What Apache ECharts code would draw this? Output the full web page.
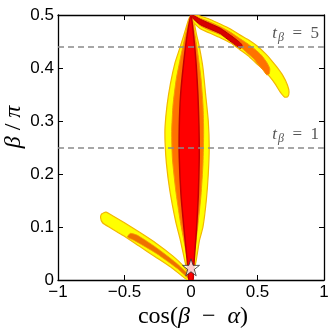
<!DOCTYPE html>
<html><head><meta charset="utf-8">
<script src="https://cdn.jsdelivr.net/npm/echarts@6/dist/echarts.min.js"></script>
<style>html,body{margin:0;padding:0;background:#fff}#c{width:333px;height:329px}</style>
</head><body><div id="c"></div>
<script>
// Axis settings and tick labels
var xMin = -1, xMax = 1, xStep = 0.5;
var yMin = 0, yMax = 0.5, yStep = 0.1;
var xTickLabels = ['\u22121', '\u22120.5', '0', '0.5', '1'];
var yTickLabels = ['0', '0.1', '0.2', '0.3', '0.4', '0.5'];

// Reference lines: beta/pi for tan(beta)=5 and tan(beta)=1
var refLineValues = [0.4372, 0.25];
var refLineTanBeta = ['5', '1'];

// Best-fit point
var bestFit = [[0.0, 0.024]];

// Contour outlines [cos(beta-alpha), beta/pi]
var lensYellow = [[0.0,0.0],[-0.03,0.02],[-0.05,0.04],[-0.08,0.075],[-0.115,0.11],[-0.16,0.17],[-0.185,0.22],[-0.195,0.26],[-0.195,0.29],[-0.18,0.33],[-0.155,0.37],[-0.12,0.41],[-0.085,0.437],[-0.05,0.465],[-0.02,0.49],[0.0,0.5],
  [0.02,0.49],[0.04,0.465],[0.065,0.437],[0.09,0.40],[0.11,0.35],[0.13,0.30],[0.137,0.25],[0.13,0.20],[0.115,0.15],[0.09,0.10],[0.064,0.075],[0.04,0.038],[0.02,0.015]];
var lensOrange = [[0.0,0.005],[-0.02,0.03],[-0.05,0.07],[-0.08,0.11],[-0.115,0.17],[-0.14,0.23],[-0.145,0.28],[-0.135,0.33],[-0.11,0.38],[-0.07,0.43],[-0.035,0.47],[0.0,0.5],
  [0.025,0.47],[0.05,0.43],[0.075,0.38],[0.09,0.33],[0.095,0.28],[0.09,0.22],[0.075,0.16],[0.05,0.10],[0.03,0.06],[0.015,0.03]];
var lensRed = [[-0.015,0.0],[-0.02,0.012],[-0.03,0.04],[-0.05,0.09],[-0.075,0.16],[-0.088,0.23],[-0.088,0.29],[-0.078,0.35],[-0.055,0.41],[-0.03,0.46],[0.0,0.5],
  [0.02,0.46],[0.038,0.41],[0.052,0.35],[0.06,0.29],[0.062,0.23],[0.055,0.16],[0.04,0.09],[0.025,0.04],[0.018,0.012],[0.015,0.0]];
var lowerYellow = [[-0.68,0.118],[-0.67,0.125],[-0.64,0.128],[-0.58,0.12],[-0.50,0.108],[-0.38,0.089],[-0.26,0.069],[-0.14,0.046],[-0.06,0.027],[-0.015,0.01],[0.0,0.002],
  [-0.025,0.0],[-0.07,0.008],[-0.15,0.024],[-0.27,0.044],[-0.39,0.064],[-0.51,0.084],[-0.61,0.099],[-0.665,0.108]];
var lowerOrange = [[-0.478,0.081],[-0.455,0.088],[-0.40,0.084],[-0.26,0.061],[-0.11,0.032],[-0.03,0.013],[0.0,0.004],
  [-0.02,0.003],[-0.10,0.021],[-0.26,0.050],[-0.43,0.075]];
var upperYellow = [[0.0,0.5],[0.04,0.5],[0.08,0.497],[0.14,0.492],[0.22,0.483],[0.30,0.473],[0.37,0.462],[0.44,0.452],[0.50,0.441],[0.56,0.427],[0.60,0.416],[0.645,0.402],[0.69,0.386],[0.725,0.368],[0.737,0.355],[0.728,0.346],
  [0.705,0.345],[0.67,0.355],[0.63,0.371],[0.59,0.384],[0.54,0.398],[0.49,0.409],[0.43,0.423],[0.37,0.434],[0.30,0.447],[0.22,0.457],[0.14,0.466],[0.07,0.474],[0.02,0.486],[0.005,0.495]];
var upperOrange = [[0.02,0.5],[0.069,0.494],[0.14,0.487],[0.22,0.478],[0.30,0.467],[0.37,0.455],[0.43,0.445],[0.483,0.435],[0.53,0.424],[0.571,0.41],[0.592,0.399],[0.588,0.389],
  [0.57,0.387],[0.545,0.395],[0.50,0.408],[0.47,0.418],[0.42,0.429],[0.37,0.44],[0.30,0.451],[0.22,0.463],[0.14,0.471],[0.069,0.48],[0.01,0.494]];
var upperRed = [[0.01,0.5],[0.069,0.492],[0.14,0.484],[0.22,0.475],[0.29,0.463],[0.344,0.453],[0.38,0.445],[0.385,0.44],
  [0.37,0.437],[0.319,0.446],[0.26,0.457],[0.22,0.465],[0.14,0.474],[0.069,0.482],[0.01,0.495]];

var shapes = [
  {pts: lensYellow, fill: '#ffff00', stroke: '#f2b800', lw: 1.2},
  {pts: lowerYellow, fill: '#ffff00', stroke: '#f2b800', lw: 1.2},
  {pts: upperYellow, fill: '#ffff00', stroke: '#f2b800', lw: 1.2},
  {pts: lensOrange, fill: '#ff7200', stroke: '#f59a00', lw: 1},
  {pts: lowerOrange, fill: '#ee7000', stroke: '#f59a00', lw: 0.8},
  {pts: upperOrange, fill: '#ff7200', stroke: '#f59a00', lw: 1},
  {pts: lensRed, fill: '#ff0000', stroke: '#c40000', lw: 1.5},
  {pts: upperRed, fill: '#d80000', stroke: '#b80000', lw: 1}
];

function tickLabel(list, min, step) {
  return function (v) { var i = Math.round((v - min) / step); return list[i] !== undefined ? list[i] : ''; };
}

var chart = echarts.init(document.getElementById('c'), null, {renderer: 'canvas'});
var lineCol = '#000';
var tickFont = {fontFamily: 'Liberation Sans, Arial, sans-serif', fontSize: 17, color: '#000'};
function mkX(pos, show) {
  return {type: 'value', min: xMin, max: xMax, interval: xStep, position: pos,
    axisLine: {show: true, onZero: false, lineStyle: {color: lineCol, width: 1.3}},
    axisTick: {show: true, inside: true, length: 5, lineStyle: {color: lineCol}},
    splitLine: {show: false},
    axisLabel: show ? Object.assign({margin: 4, formatter: tickLabel(xTickLabels, xMin, xStep)}, tickFont) : {show: false}};
}
function mkY(pos, show) {
  return {type: 'value', min: yMin, max: yMax, interval: yStep, position: pos,
    axisLine: {show: true, onZero: false, lineStyle: {color: lineCol, width: 1.3}},
    axisTick: {show: true, inside: true, length: 5, lineStyle: {color: lineCol}},
    splitLine: {show: false},
    axisLabel: show ? Object.assign({margin: 4, formatter: tickLabel(yTickLabels, yMin, yStep)}, tickFont) : {show: false}};
}

var serif = 'Liberation Serif, DejaVu Serif, serif';
var refRich = {
  t: {fontFamily: serif, fontStyle: 'italic', fontSize: 17, color: '#555'},
  b: {fontFamily: serif, fontStyle: 'italic', fontSize: 12, color: '#555', padding: [8, 0, 0, 1]},
  e: {fontFamily: serif, fontSize: 17, color: '#555'}
};

var option = {
  animation: false,
  grid: {left: 58, right: 9, top: 15, bottom: 49},
  xAxis: [mkX('bottom', true), mkX('top', false)],
  yAxis: [mkY('left', true), mkY('right', false)],
  graphic: [
    {type: 'text', x: 193, y: 317, style: {
      text: '{r|cos(}{i|β}{r|  \u2212  }{i|α}{r|)}', x: 0, y: 0, align: 'center', verticalAlign: 'middle',
      rich: {r: {fontFamily: serif, fontSize: 24, color: '#222'}, i: {fontFamily: serif, fontStyle: 'italic', fontSize: 24, color: '#222'}}
    }},
    {type: 'text', x: 14, y: 127, rotation: Math.PI / 2, style: {
      text: '{i|β}{r| / }{i|π}', x: 0, y: 0, align: 'center', verticalAlign: 'middle',
      rich: {r: {fontFamily: serif, fontSize: 24, color: '#333'}, i: {fontFamily: serif, fontStyle: 'italic', fontSize: 24, color: '#333'}}
    }}
  ],
  series: [
    {
      type: 'custom', xAxisIndex: 0, yAxisIndex: 0, clip: true, z: 2,
      data: shapes.map(function (s) { return s.pts[0]; }),
      renderItem: function (params, api) {
        var s = shapes[params.dataIndex];
        var pts = s.pts.map(function (p) { return api.coord(p); });
        return {type: 'polygon', shape: {points: pts, smooth: 0.2},
          style: {fill: s.fill, stroke: s.stroke, lineWidth: s.lw}};
      }
    },
    {
      type: 'scatter', xAxisIndex: 0, yAxisIndex: 0, z: 5,
      data: bestFit,
      symbol: 'path://M50,0 L61.8,35.1 L98.1,35.1 L68.8,56.7 L79.4,90.5 L50,69.1 L20.6,90.5 L31.2,56.7 L1.9,35.1 L38.2,35.1 Z',
      symbolSize: 17,
      itemStyle: {color: '#fff', borderColor: '#333', borderWidth: 1},
      markLine: {
        silent: true, symbol: 'none', animation: false,
        lineStyle: {color: '#8a8a8a', type: [6, 4], width: 1.5},
        data: refLineValues.map(function (v, i) {
          return {yAxis: v, label: {show: true, position: 'insideEndTop', distance: [5, 3],
            formatter: '{t|t}{b|β}{e|\u2002=\u2002' + refLineTanBeta[i] + '}', rich: refRich}};
        })
      }
    }
  ]
};
chart.setOption(option);
</script></body></html>
